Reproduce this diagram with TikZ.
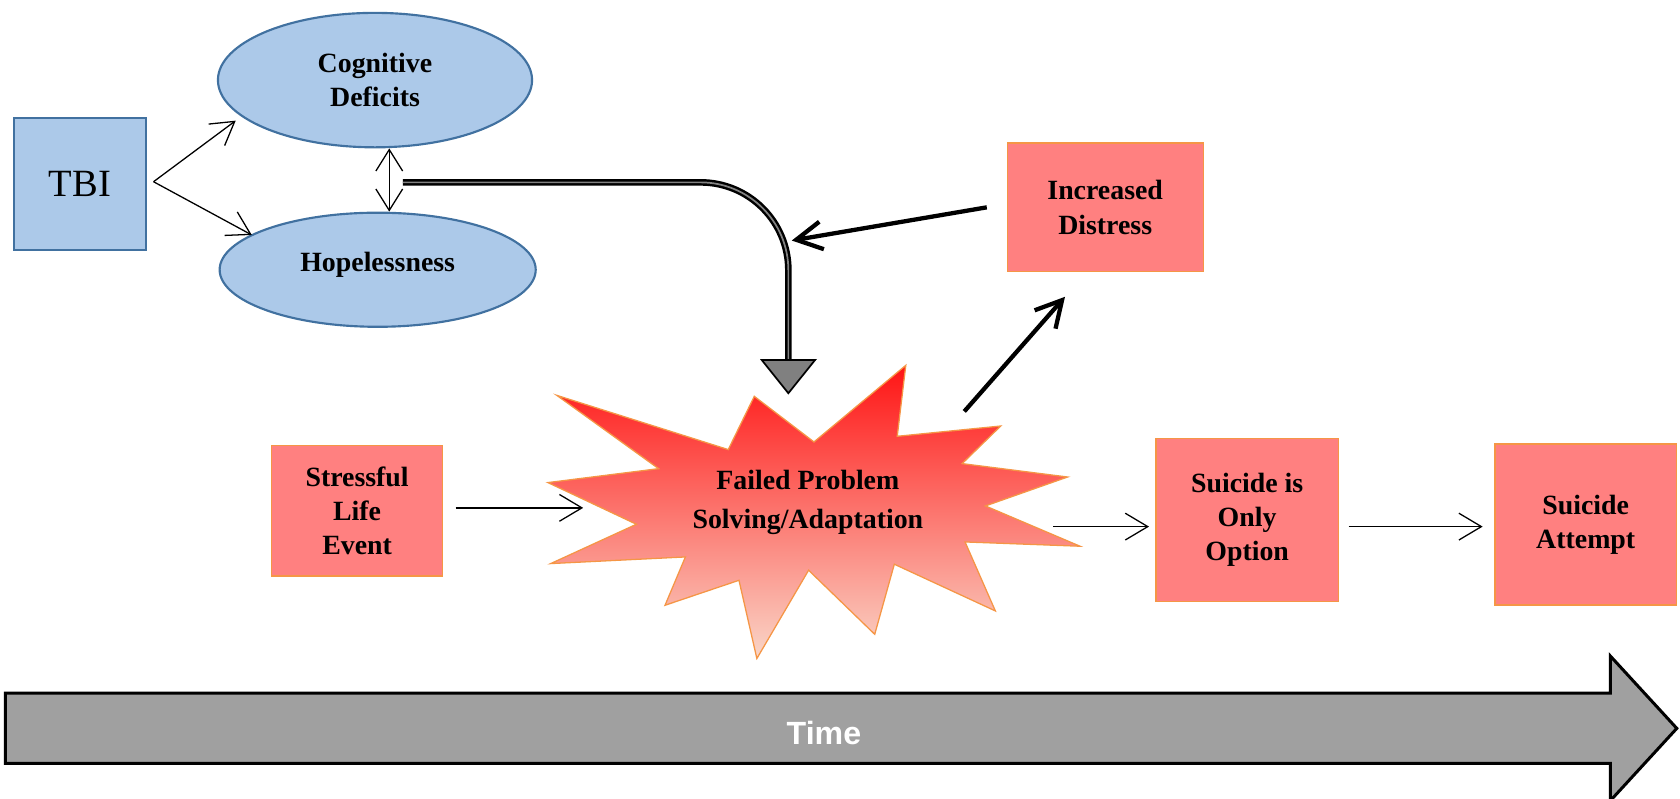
\documentclass[tikz,border=0pt]{standalone}
\usepackage{fontspec}
\setmainfont{Liberation Serif}
\newfontfamily\timefont{Liberation Sans}
\usetikzlibrary{arrows.meta,shapes.geometric}

\definecolor{bluefill}{RGB}{172,201,233}
\definecolor{blueline}{RGB}{65,113,160}
\definecolor{redfill}{RGB}{255,128,128}
\definecolor{orangeline}{RGB}{245,150,70}
\definecolor{burstTop}{RGB}{255,20,20}
\definecolor{burstBottom}{RGB}{249,214,200}
\definecolor{timegray}{RGB}{160,160,160}
\definecolor{headgray}{RGB}{128,128,128}
\definecolor{coregray}{RGB}{130,130,130}

\begin{document}
\begin{tikzpicture}[x=0.5pt,y=-0.5pt,
  labelfont/.style={font=\fontsize{13}{16}\selectfont\bfseries},
  bluebox/.style={draw=blueline, fill=bluefill, line width=1pt, inner sep=0pt, align=center},
  blueoval/.style={bluebox, ellipse, labelfont},
  redbox/.style={draw=orangeline, fill=redfill, line width=0.6pt, inner sep=0pt, align=center, labelfont},
  thinarrow/.style={line width=0.6pt, -{Straight Barb[length=10.5pt,width=12.5pt]}},
  bothways/.style={line width=0.6pt, {Straight Barb[length=10pt,width=12.5pt]}-{Straight Barb[length=10pt,width=12.5pt]}},
  thickarrow/.style={line width=2pt, -{Straight Barb[length=12pt,width=13pt]}},
  moderator/.style={line width=1.15pt, double=coregray, double distance=0.8pt, rounded corners=41pt},
]
\useasboundingbox (0,0) rectangle (1568,745);

% --- TBI and its consequences ---
\node[bluebox, minimum width=61.5pt, minimum height=61.3pt, font=\fontsize{18}{20}\selectfont] (tbi) at (74.5,171.7) {TBI};
\node[blueoval, minimum width=146.6pt, minimum height=62.75pt] (cog) at (350,74.75) {Cognitive\\Deficits};
\node[blueoval, minimum width=147.5pt, minimum height=53.25pt, text depth=7.3pt] (hope) at (352.5,251.75) {Hopelessness};

\coordinate (tbiout) at (143.3,169.6);
\coordinate (cogin) at (220,112.6);
\coordinate (hopein) at (235,219.3);
\draw[thinarrow] (tbiout) -- (cogin);
\draw[thinarrow] (tbiout) -- (hopein);

\coordinate (dv) at (363.3,0);
\draw[bothways] (cog.south -| dv) -- (hope.north -| dv);

% --- moderating path into the burst ---
\coordinate (dstart) at (376,170.2);
\coordinate (dend) at (735.8,336);
\draw[moderator] (dstart) -| (dend);
\draw[fill=headgray, line width=0.8pt, line join=miter] (711,336) -- (760.7,336) -- (735.8,367) -- cycle;

% --- central event ---
\draw[draw=orangeline, line width=0.6pt, top color=burstTop, bottom color=burstBottom]
  (519.7,369) -- (679.7,419.6) -- (704,369.9) -- (759.7,412.5) -- (845.4,341)
  -- (837.4,407.2) -- (934,397.6) -- (898,432.7) -- (996.4,445.2) -- (919.7,472.2)
  -- (1008,509.8) -- (900.7,505.8) -- (929,570.2) -- (834.7,526.6) -- (816.4,592)
  -- (754.7,532.2) -- (706.4,614.6) -- (689.7,541.6) -- (620.7,564.9) -- (639.7,519.8)
  -- (514,526) -- (594,489.3) -- (511.4,450.4) -- (614.7,437.4) -- cycle;
\node[align=center, font=\fontsize{13}{18}\selectfont\bfseries] (fps) at (754,469) {Failed Problem\\Solving/Adaptation};

% --- boxes ---
\node[redbox, minimum width=79.7pt, minimum height=60.8pt] (stress) at (333.3,476.8) {Stressful\\Life\\Event};
\node[redbox, minimum width=91.5pt, minimum height=60pt] (distress) at (1031.5,193.5) {Increased\\Distress};
\node[redbox, minimum width=85pt, minimum height=76.3pt] (only) at (1164,485.3) {Suicide is\\Only\\Option};
\node[redbox, minimum width=84.6pt, minimum height=75.2pt] (attempt) at (1480,489.5) {Suicide\\Attempt};

% --- connectors along the sequence ---
\coordinate (sin) at (544.3,474);
\draw[thinarrow, shorten <=5.8pt] (stress.east |- sin) -- (sin);

\coordinate (fout) at (983,491.5);
\draw[thinarrow, shorten >=3pt] (fout) -- (fout -| only.west);
\draw[thinarrow, shorten <=4.5pt, shorten >=5.5pt] (fout -| only.east) -- (fout -| attempt.west);

\coordinate (bout) at (900,384);
\coordinate (bin) at (994,277);
\draw[thickarrow] (bout) -- (bin);

\coordinate (dtail) at (921,193.5);
\coordinate (dtip) at (739,224.5);
\draw[thickarrow] (dtail) -- (dtip);

% --- time axis ---
\draw[fill=timegray, line width=1.4pt, line join=miter]
  (5,647) -- (1503,647) -- (1503,612.3) -- (1565,679.8) -- (1503,747.3) -- (1503,712.5) -- (5,712.5) -- cycle;
\node[text=white, font=\timefont\fontsize{15}{18}\selectfont\bfseries] (time) at (769,683.7) {Time};

\end{tikzpicture}
\end{document}
